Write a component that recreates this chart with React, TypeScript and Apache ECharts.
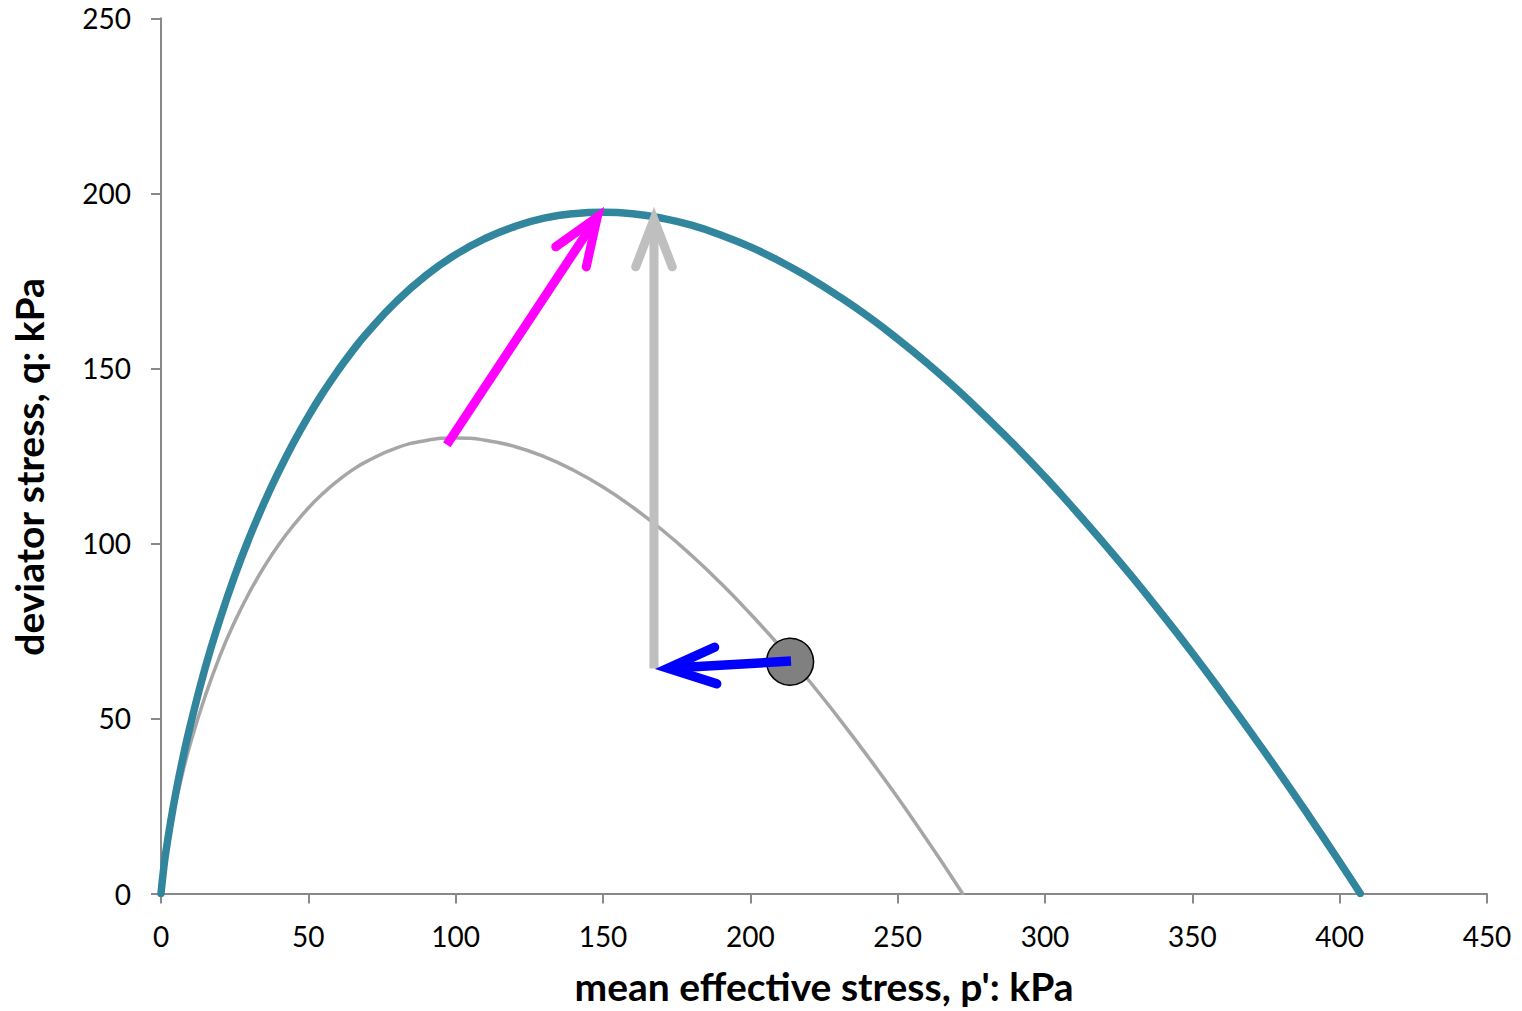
import React, { useEffect, useRef } from "react";
import * as echarts from "echarts";

// ---- data (p' in kPa, q in kPa) ----
const tealCurve: [number, number][] = [
  [0, 0], [1, 7.8], [2, 13.8], [3, 19.1], [4, 24.0], [5, 28.6], [7, 37.0], [10, 48.2],
  [15, 64.5], [20, 78.3], [25, 90.7], [30, 101.7], [35, 111.6], [40, 120.6], [45, 128.8],
  [50, 136.3], [55, 143.1], [60, 149.3], [65, 155.0], [70, 160.2], [80, 169.2], [90, 176.6],
  [100, 182.5], [110, 187.1], [120, 190.5], [130, 192.9], [140, 194.2], [150, 194.6],
  [160, 194.2], [170, 192.9], [180, 190.9], [190, 188.1], [200, 184.7], [210, 180.6],
  [220, 175.9], [230, 170.6], [240, 164.8], [250, 158.4], [260, 151.5], [270, 144.1],
  [280, 136.1], [290, 127.8], [300, 119.0], [310, 109.7], [320, 100.0], [330, 90.0],
  [340, 79.5], [350, 68.7], [360, 57.4], [370, 45.8], [380, 33.9], [390, 21.6], [400, 9.0],
  [407, 0],
];

const grayCurve: [number, number][] = [
  [0, 0], [1, 7.3], [2, 12.8], [3, 17.6], [5, 26.0], [7, 33.3], [10, 42.9], [15, 56.4],
  [20, 67.9], [25, 77.6], [30, 86.0], [35, 93.3], [40, 99.7], [45, 105.2], [50, 110.1],
  [55, 114.3], [60, 117.9], [65, 121.0], [70, 123.5], [80, 127.3], [90, 129.4],
  [100, 130.1], [110, 129.5], [120, 127.7], [130, 124.8], [140, 120.9], [150, 116.1],
  [160, 110.4], [170, 103.9], [180, 96.6], [190, 88.6], [200, 79.9], [210, 70.6],
  [220, 60.7], [230, 50.1], [240, 39.0], [250, 27.4], [260, 15.2], [265, 9.0], [272, 0],
];

// arrows: [tailP, tailQ, headP, headQ]
const grayArrow = [167.3, 64.3, 167.3, 196.2];
const magentaArrow = [97, 128.2, 150.4, 196.2];
const blueArrow = [213.8, 66.4, 167.6, 64.1];

const statePoint: [number, number] = [213.5, 66.2];

const xTicks = { min: 0, max: 450, interval: 50 };
const yTicks = { min: 0, max: 250, interval: 50 };

const FONT = 'Lato, "Open Sans", sans-serif';

function arrowRenderer(width: number, color: string) {
  return (params: any, api: any) => {
    const a = api.coord([api.value(0), api.value(1)]);
    const b = api.coord([api.value(2), api.value(3)]);
    const dx = b[0] - a[0];
    const dy = b[1] - a[1];
    const len = Math.hypot(dx, dy) || 1;
    const ux = dx / len;
    const uy = dy / len;
    const half = (21 * Math.PI) / 180;
    const back = width / 2 / Math.sin(half);
    const px = b[0] - ux * back;
    const py = b[1] - uy * back;
    const L = 51;
    const bx = -ux;
    const by = -uy;
    const wing = (ang: number) => [
      px + L * (bx * Math.cos(ang) - by * Math.sin(ang)),
      py + L * (bx * Math.sin(ang) + by * Math.cos(ang)),
    ];
    return {
      type: "group",
      children: [
        {
          type: "line",
          shape: { x1: a[0], y1: a[1], x2: px, y2: py },
          style: { stroke: color, lineWidth: width, lineCap: "butt", fill: "none" },
        },
        {
          type: "polyline",
          shape: { points: [wing(half), [px, py], wing(-half)] },
          style: {
            stroke: color,
            lineWidth: width,
            lineCap: "round",
            lineJoin: "miter",
            fill: "none",
          },
        },
      ],
    };
  };
}

function arrowSeries(name: string, data: number[], width: number, color: string, z: number) {
  return {
    type: "custom",
    name,
    coordinateSystem: "cartesian2d",
    renderItem: arrowRenderer(width, color),
    encode: { x: [0, 2], y: [1, 3] },
    data: [data],
    clip: false,
    z,
    silent: true,
  };
}

const axisLineStyle = { color: "#898989", width: 2 };

export default function App() {
  const ref = useRef<HTMLDivElement>(null);
  useEffect(() => {
    document.body.style.margin = "0";
    if (!ref.current) return;
    const chart = echarts.init(ref.current, undefined, { renderer: "svg" });
    chart.setOption({
      animation: false,
      backgroundColor: "#ffffff",
      grid: { left: 161, right: 35, top: 18.3, bottom: 117.5, outerBoundsMode: "none" },
      xAxis: {
        type: "value",
        ...xTicks,
        name: "mean effective stress, p': kPa",
        nameLocation: "middle",
        nameGap: 73,
        nameTextStyle: { fontFamily: FONT, fontSize: 39, fontWeight: "bold", color: "#000" },
        axisLine: { show: true, onZero: false, lineStyle: axisLineStyle },
        axisTick: { show: true, inside: false, length: 10, lineStyle: axisLineStyle },
        axisLabel: { fontFamily: FONT, fontSize: 28, color: "#000", margin: 28 },
        splitLine: { show: false },
      },
      yAxis: {
        type: "value",
        ...yTicks,
        name: "deviator stress, q: kPa",
        nameLocation: "middle",
        nameRotate: 90,
        nameGap: 113,
        nameTextStyle: {
          fontFamily: FONT,
          fontSize: 39,
          fontWeight: "bold",
          color: "#000",
          padding: [0, 22, 0, 0],
        },
        axisLine: { show: true, onZero: false, lineStyle: axisLineStyle },
        axisTick: { show: true, inside: false, length: 10, lineStyle: axisLineStyle },
        axisLabel: { fontFamily: FONT, fontSize: 28, color: "#000", margin: 30, padding: [6, 0, 0, 0] },
        splitLine: { show: false },
      },
      series: [
        {
          type: "line",
          name: "yield surface (initial)",
          data: grayCurve,
          smooth: 0.5,
          symbol: "none",
          lineStyle: { color: "#A6A6A6", width: 3.5, cap: "round" },
          z: 2,
          silent: true,
        },
        {
          type: "line",
          name: "yield surface (expanded)",
          data: tealCurve,
          smooth: 0.5,
          symbol: "none",
          lineStyle: { color: "#31859C", width: 7.5, cap: "round" },
          z: 3,
          silent: true,
        },
        {
          type: "scatter",
          name: "current state",
          data: [statePoint],
          symbol: "circle",
          symbolSize: 47,
          itemStyle: { color: "#808080", borderColor: "#000000", borderWidth: 1.5, opacity: 1 },
          z: 4,
          silent: true,
        },
        arrowSeries("gray arrow", grayArrow, 9, "#BFBFBF", 5),
        arrowSeries("magenta arrow", magentaArrow, 9, "#FF00FF", 6),
        arrowSeries("blue arrow", blueArrow, 9.5, "#0000FF", 7),
      ],
    });
    return () => chart.dispose();
  }, []);
  return <div ref={ref} style={{ width: 1522, height: 1011 }} />;
}
